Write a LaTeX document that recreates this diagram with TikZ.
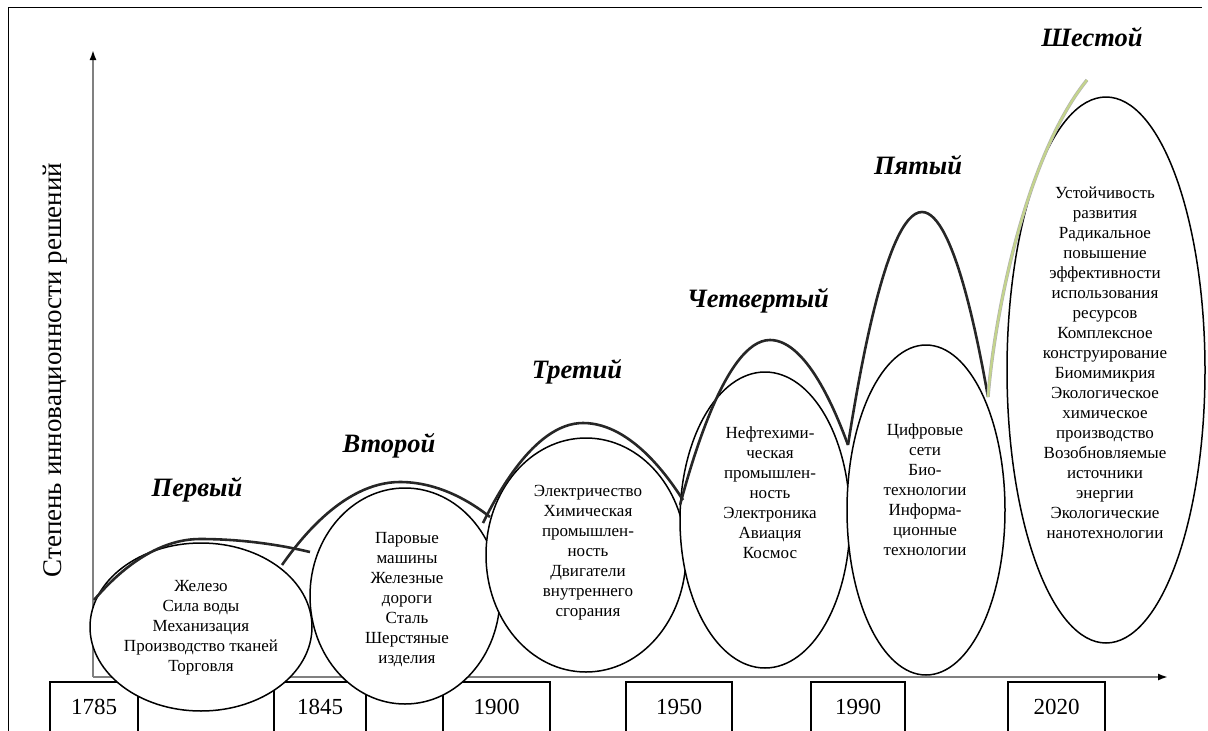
\documentclass[tikz,border=0pt]{standalone}
\usepackage{fontspec}
\setmainfont{Liberation Serif}
\usetikzlibrary{shapes.geometric,arrows.meta}
\definecolor{sprout}{RGB}{196,212,140}
\begin{document}
\begin{tikzpicture}[x=1pt,y=-1pt,
		era/.style={draw,fill=white,ellipse,line width=1.5pt,inner sep=0pt},
		facts/.style={align=center,font=\fontsize{17}{20}\selectfont},
		gen/.style={font=\fontsize{26.5}{30}\selectfont\bfseries\itshape},
		yearbox/.style={draw,line width=1.3pt,minimum height=50pt,inner sep=0pt,font=\fontsize{23}{27}\selectfont},
		wave/.style={line width=2.6pt,black!85},
		axis/.style={line width=1.8pt,black!50,-{Latex[length=10pt,width=7pt,black]}}]
	\useasboundingbox (0,0) rectangle (1208,731);
	\clip (0,0) rectangle (1208,731);
	\draw[line width=1pt] (8,731)--(8,7)--(1202,7);
	% axes
	\coordinate (O) at (93,677);
	\coordinate (ytip) at (93,50);
	\coordinate (xtip) at (1168,677);
	\draw[axis] (O)--(ytip);
	\draw[axis] (O)--(xtip);
	\node[rotate=90,font=\fontsize{27}{32}\selectfont] (ylab) at (55,370) {Степень инновационности решений};
	% years
	\foreach \cx/\w/\yr [count=\i] in {94/88/1785,206/136/{},320/92/1845,404.5/77/{},496.5/107/1900,679/106/1950,858/94/1990,1056.5/97/2020}
	\node[yearbox,minimum width=\w pt] (yr\i) at (\cx,707) {\yr};
	% waves
	\foreach \n/\cx/\cy/\w/\h in {1/201/627/222/168,2/405/596/190/216,3/586/555/200/234,4/765/520/170/296,5/926/510/158/330,6/1106/370/198/546}
	\node[era,minimum width=\w pt,minimum height=\h pt] (e\n) at (\cx,\cy) {};
	\draw[wave] (94,600) parabola bend (200,539) (310,552);
	\draw[wave] (282,565) parabola bend (400,482) (490,517);
	\draw[wave] (483,523) parabola bend (583,423) (683,500);
	\draw[wave] (680,505) parabola bend (770,340) (848,445);
	\draw[wave] (848,445) parabola bend (922,212) (988,397);
	\draw[line width=3.4pt,black!30] (988,397) .. controls (996,300) and (1030,150) .. (1087,80);
	\draw[line width=2.2pt,sprout] (988,397) .. controls (996,300) and (1030,150) .. (1087,80);
	% labels
	\node[gen] (g1) at (197,490) {Первый};
	\node[gen] (g2) at (389,446) {Второй};
	\node[gen] (g3) at (577,372) {Третий};
	\node[gen] (g4) at (758,301) {Четвертый};
	\node[gen] (g5) at (918,165) {Пятый};
	\node[gen] (g6) at (1092,37) {Шестой};
	\node[facts] (t1) at (201,628) {Железо\\Сила воды\\Механизация\\Производство тканей\\Торговля};
	\node[facts] (t2) at (407,600) {Паровые\\машины\\Железные\\дороги\\Сталь\\Шерстяные\\изделия};
	\node[facts] (t3) at (588,553) {Электричество\\Химическая\\промышлен-\\ность\\Двигатели\\внутреннего\\сгорания};
	\node[facts] (t4) at (770,493) {Нефтехими-\\ческая\\промышлен-\\ность\\Электроника\\Авиация\\Космос};
	\node[facts] (t5) at (925,490) {Цифровые\\сети\\Био-\\технологии\\Информа-\\ционные\\технологии};
	\node[facts] (t6) at (1105,363) {Устойчивость\\развития\\Радикальное\\повышение\\эффективности\\использования\\ресурсов\\Комплексное\\конструирование\\Биомимикрия\\Экологическое\\химическое\\производство\\Возобновляемые\\источники\\энергии\\Экологические\\нанотехнологии};
\end{tikzpicture}
\end{document}
